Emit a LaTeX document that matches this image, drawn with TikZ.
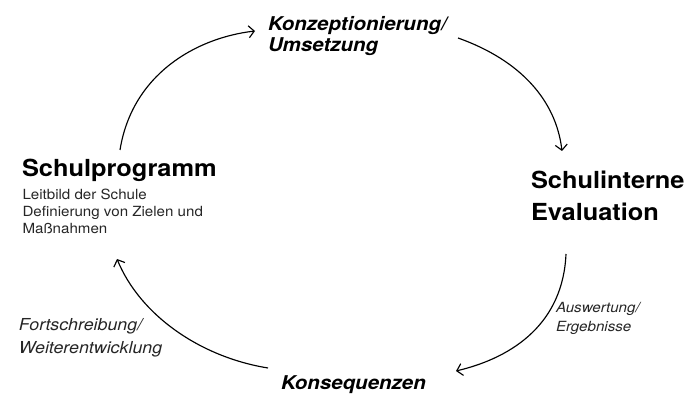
\documentclass[tikz,border=0pt]{standalone}
\usepackage{fontspec}
\setmainfont[FakeStretch=1.08]{TeX Gyre Heros}
\usetikzlibrary{arrows.meta}
\begin{document}
\begin{tikzpicture}[x=1pt,y=-1pt,
  lbl/.style={inner sep=0pt, outer sep=0pt, align=left, anchor=base west},
  big/.style={lbl, font=\bfseries\fontsize{23.5}{32.5}\selectfont, text=black},
  sub/.style={lbl, font=\fontsize{14}{16.7}\selectfont, text=black!85},
  step lbl/.style={lbl, font=\bfseries\itshape\fontsize{19}{21}\selectfont, text=black},
  edge lbl/.style={lbl, font=\itshape\fontsize{16.5}{22.6}\selectfont, text=black!85},
  cyc/.style={line width=1.15pt, -{Straight Barb[length=5.5pt,width=12pt,line width=1.15pt]}}
]
\useasboundingbox (0,0) rectangle (691,395);

% base anchor of a multi-line node = baseline of its last line
\node[step lbl] (konz) at (268,52) {Konzeptionierung/\\Umsetzung};
\node[big] (prog) at (22,177) {Schulprogramm};
\node[sub] (progsub) at (22.5,233.3) {Leitbild der Schule\\Definierung von Zielen und\\Maßnahmen};
\node[big] (eval) at (531,221) {Schulinterne\\Evaluation};
\node[lbl, font=\itshape\fontsize{14}{19.5}\selectfont, text=black!85] (ausw) at (556,331.7) {Auswertung/\\Ergebnisse};
\node[step lbl] (kons) at (281,389) {Konsequenzen};
\node[edge lbl] (fort) at (19,353.3) {Fortschreibung/\\Weiterentwicklung};

\coordinate (p1) at (120,150);
\coordinate (k1) at (255,31);
\coordinate (k2) at (458,38);
\coordinate (e1) at (562,151);
\coordinate (e2) at (566,254);
\coordinate (s1) at (456,371);
\coordinate (s2) at (268,368);
\coordinate (p2) at (117,259);

\draw[cyc] (p1) .. controls (132,75) and (195,38) .. (k1);
\draw[cyc] (k2) .. controls (520,60) and (556,100) .. (e1);
\draw[cyc] (e2) .. controls (563,322) and (515,357) .. (s1);
\draw[cyc] (s2) .. controls (200,357) and (140,315) .. (p2);
\end{tikzpicture}
\end{document}
